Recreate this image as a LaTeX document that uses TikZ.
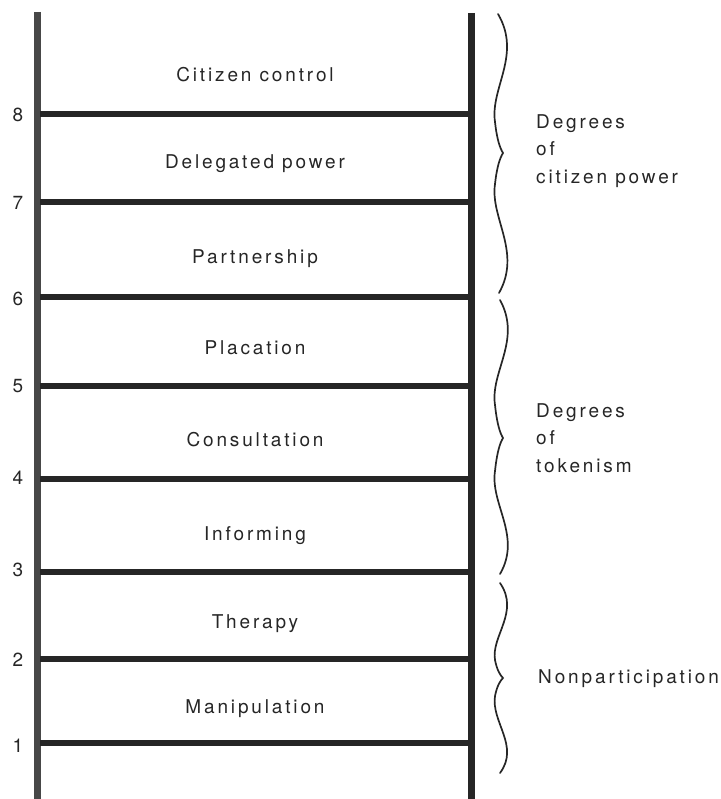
\documentclass[tikz,border=0pt]{standalone}
\usepackage{fontspec}
\setmainfont{TeX Gyre Heros}[LetterSpace=15]
\definecolor{railL}{HTML}{474747}
\definecolor{ink}{HTML}{262626}
\begin{document}
\begin{tikzpicture}[x=1pt,y=-1pt,
  rail/.style={line width=7pt,color=ink},
  rung/.style={line width=6.5pt,color=ink},
  bracepath/.style={line width=1.7pt,color=ink,line cap=round},
  lbl/.style={anchor=base,inner sep=0pt,font=\fontsize{19}{27}\selectfont,text=ink},
  num/.style={anchor=base,inner sep=0pt,font=\fontsize{19}{27}\selectfont,text=ink},
  side/.style={anchor=west,inner sep=0pt,align=left,font=\fontsize{19}{27.5}\selectfont,text=ink}]
\useasboundingbox (0,0) rectangle (720,799);
% rails
\coordinate (LT) at (37,12);
\coordinate (LB) at (37,799);
\coordinate (RT) at (471,13);
\coordinate (RB) at (471,799);
\draw[rail,color=railL] (LT) -- (LB);
\draw[rail] (RT) -- (RB);
% rungs
\foreach \n/\y in {8/114,7/202,6/297,5/386,4/479,3/572,2/659,1/743}{
  \coordinate (l\n) at (40,\y);
  \coordinate (r\n) at (468,\y);
  \draw[rung] (l\n) -- (r\n);
}
% numbers
\node[num] (n8) at (18,122) {8};
\node[num] (n7) at (18,210) {7};
\node[num] (n6) at (18,305) {6};
\node[num] (n5) at (18,392) {5};
\node[num] (n4) at (18,484) {4};
\node[num] (n3) at (18,576) {3};
\node[num] (n2) at (18,666) {2};
\node[num] (n1) at (18,752) {1};
% rung labels
\node[lbl] (t8) at (255,82) {Citizen control};
\node[lbl] (t7) at (255,169) {Delegated power};
\node[lbl] (t6) at (255,263) {Partnership};
\node[lbl] (t5) at (255,354) {Placation};
\node[lbl] (t4) at (255,446) {Consultation};
\node[lbl] (t3) at (255,540) {Informing};
\node[lbl] (t2) at (255,628) {Therapy};
\node[lbl] (t1) at (255,713) {Manipulation};
% braces
\draw[bracepath] (498,14) .. controls (522,55) and (490,88) .. (495,122)
  .. controls (497,140) and (500,148) .. (503,153)
  .. controls (500,158) and (497,166) .. (495,184)
  .. controls (490,218) and (522,252) .. (499,293);
\draw[bracepath] (500,300) .. controls (522,340) and (490,372) .. (495,405)
  .. controls (497,424) and (500,433) .. (503,438)
  .. controls (500,443) and (497,452) .. (495,471)
  .. controls (490,504) and (522,536) .. (500,574);
\draw[bracepath] (500,583) .. controls (520,612) and (491,636) .. (495,660)
  .. controls (497,670) and (500,675) .. (503,678)
  .. controls (500,681) and (497,686) .. (495,696)
  .. controls (491,722) and (520,746) .. (500,773);
% side labels
\node[side] (s1) at (536,151) {Degrees\\of\\citizen power};
\node[side] (s2) at (536,438) {Degrees\\of\\tokenism};
\node[side] (s3) at (538,679) {Nonparticipation};
\end{tikzpicture}
\end{document}
